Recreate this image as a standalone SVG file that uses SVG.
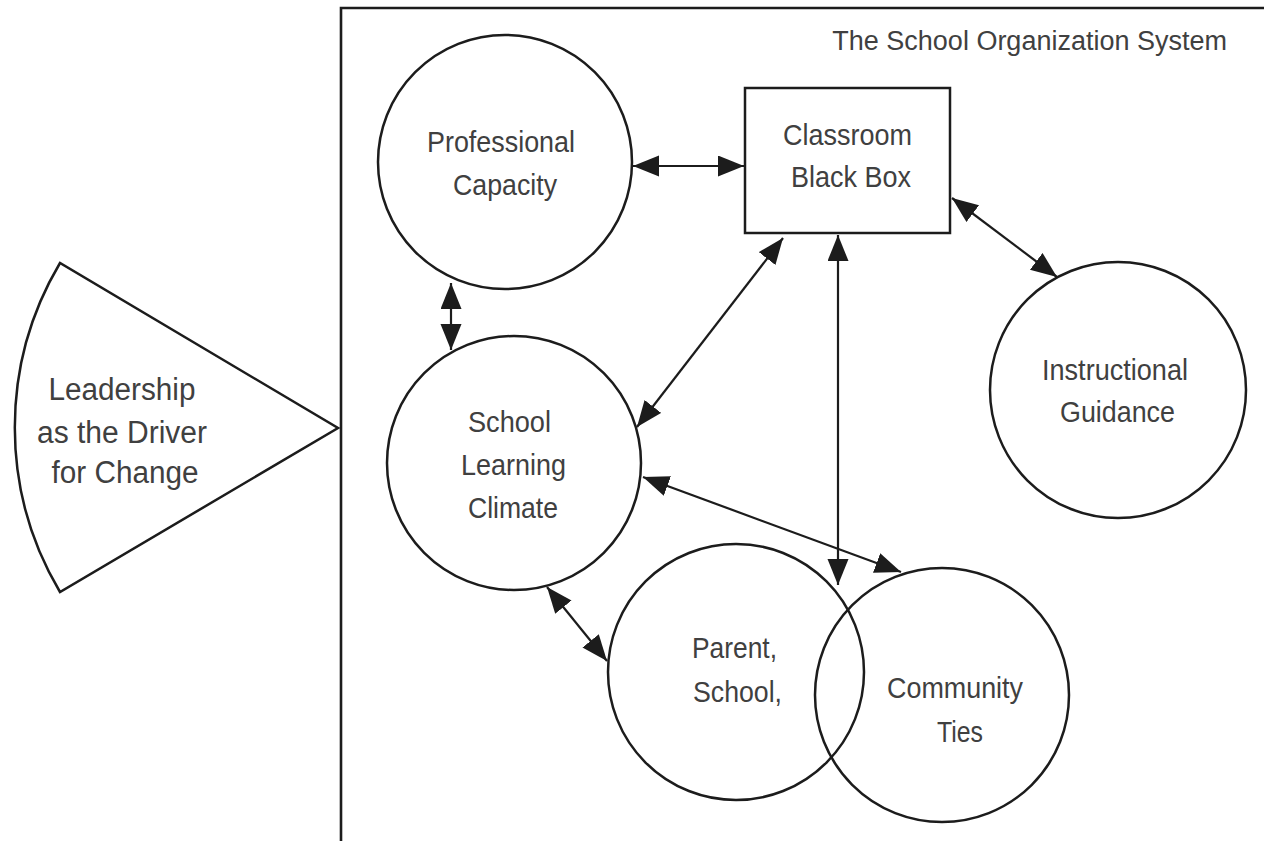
<svg xmlns="http://www.w3.org/2000/svg" width="1264" height="841" viewBox="0 0 1264 841">
<defs>
<style>
.shape{fill:#fff;stroke:#1c1c1c;stroke-width:2.5}
.outline{fill:none;stroke:#1c1c1c;stroke-width:2.5}
.frame{fill:none;stroke:#1c1c1c;stroke-width:2.6}
.conn{fill:none;stroke:#1c1c1c;stroke-width:2.2;marker-start:url(#ah);marker-end:url(#ah)}
text{font-family:"Liberation Sans",Arial,Helvetica,sans-serif;fill:#404040;text-anchor:middle;font-size:30px}
.lead{font-size:31px}
.title{font-size:27px;text-anchor:end}
</style>
<marker id="ah" markerUnits="userSpaceOnUse" markerWidth="27" markerHeight="22" refX="26" refY="10.5" orient="auto-start-reverse">
<path d="M0,0 L26,10.5 L0,21 Z" fill="#1c1c1c"/>
</marker>
</defs>
<rect width="1264" height="841" fill="#fff"/>
<g id="system-frame">
<path class="frame" d="M341,841 V8 H1264"/>
<text class="title" x="1227" y="50">The School Organization System</text>
</g>
<g id="leadership">
<path class="shape" d="M60,263 A322,322 0 0 0 60,592 L338,428 Z"/>
<text class="lead" x="122" y="400" textLength="147" lengthAdjust="spacingAndGlyphs">Leadership</text>
<text class="lead" x="122" y="443" textLength="170" lengthAdjust="spacingAndGlyphs">as the Driver</text>
<text class="lead" x="125" y="483" textLength="147" lengthAdjust="spacingAndGlyphs">for Change</text>
</g>
<g id="professional-capacity">
<circle class="shape" cx="505" cy="162" r="127"/>
<text x="501" y="152" textLength="148" lengthAdjust="spacingAndGlyphs">Professional</text>
<text x="505" y="195" textLength="104" lengthAdjust="spacingAndGlyphs">Capacity</text>
</g>
<g id="classroom-black-box">
<rect class="shape" x="745" y="88" width="205" height="145"/>
<text x="847.5" y="145" textLength="129" lengthAdjust="spacingAndGlyphs">Classroom</text>
<text x="851" y="187" textLength="120" lengthAdjust="spacingAndGlyphs">Black Box</text>
</g>
<g id="instructional-guidance">
<circle class="shape" cx="1118" cy="390" r="128"/>
<text x="1115" y="380" textLength="146" lengthAdjust="spacingAndGlyphs">Instructional</text>
<text x="1117.5" y="422" textLength="115" lengthAdjust="spacingAndGlyphs">Guidance</text>
</g>
<g id="school-learning-climate">
<circle class="shape" cx="514" cy="463" r="127"/>
<text x="509.5" y="432" textLength="83" lengthAdjust="spacingAndGlyphs">School</text>
<text x="513.5" y="475" textLength="105" lengthAdjust="spacingAndGlyphs">Learning</text>
<text x="513" y="518" textLength="90" lengthAdjust="spacingAndGlyphs">Climate</text>
</g>
<g id="parent-school">
<circle class="shape" cx="736" cy="672" r="128"/>
<text x="734.5" y="658" textLength="85" lengthAdjust="spacingAndGlyphs">Parent,</text>
<text x="737.5" y="702" textLength="89" lengthAdjust="spacingAndGlyphs">School,</text>
</g>
<g id="community-ties">
<circle class="outline" cx="942" cy="695" r="127"/>
<text x="955" y="698" textLength="136" lengthAdjust="spacingAndGlyphs">Community</text>
<text x="960" y="742" textLength="46" lengthAdjust="spacingAndGlyphs">Ties</text>
</g>
<g id="connectors">
<line class="conn" x1="633" y1="166" x2="744" y2="166"/>
<line class="conn" x1="451" y1="283" x2="451" y2="350"/>
<line class="conn" x1="637" y1="427" x2="783" y2="238"/>
<line class="conn" x1="838" y1="235" x2="838" y2="585"/>
<line class="conn" x1="952" y1="198" x2="1057" y2="277"/>
<line class="conn" x1="643" y1="477" x2="901" y2="572"/>
<line class="conn" x1="547" y1="587" x2="607" y2="661"/>
</g>
</svg>
